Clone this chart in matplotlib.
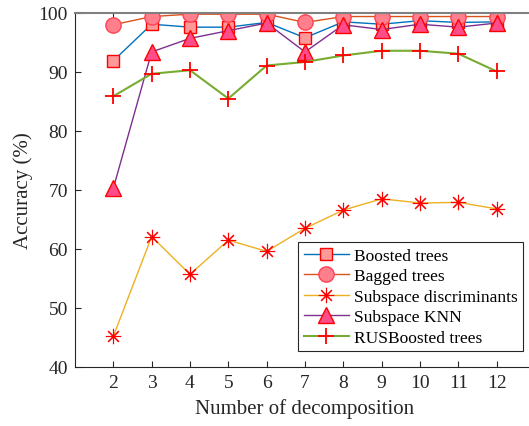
import numpy as np
import matplotlib
matplotlib.use("Agg")
import matplotlib.pyplot as plt

plt.rcParams['font.family'] = ['Liberation Serif', 'DejaVu Serif']

n_decomp = [2, 3, 4, 5, 6, 7, 8, 9, 10, 11, 12]
boosted = [91.9, 98.1, 97.6, 97.6, 98.4, 95.8, 98.5, 98.1, 98.7, 98.4, 98.5]
bagged = [98.0, 99.4, 99.8, 99.8, 99.8, 98.4, 99.4, 99.4, 99.4, 99.4, 99.4]
sub_disc = [45.2, 62.1, 55.7, 61.5, 59.6, 63.5, 66.6, 68.5, 67.8, 67.9, 66.8]
sub_knn = [70.3, 93.4, 95.7, 97.0, 98.3, 93.4, 98.0, 97.2, 98.1, 97.6, 98.3]
rusboost = [85.9, 89.7, 90.3, 85.5, 91.1, 91.7, 92.8, 93.6, 93.6, 93.1, 90.1]

fig = plt.figure(figsize=(5.29, 4.27), dpi=100)
# axes extends past the right edge of the figure (cropped original)
ax = fig.add_axes([75 / 529, 1 - 368 / 427, 460 / 529, 354 / 427])

ax.plot(n_decomp, boosted, '-', color='#0072BD', lw=1, marker='s', ms=8,
        mfc='#FF9999', mec='r', label='Boosted trees')
ax.plot(n_decomp, bagged, '-', color='#D95319', lw=1, marker='o', ms=11,
        mfc='#FF7F8C', mec='#FF4455', label='Bagged trees')
ax.plot(n_decomp, sub_disc, '-', color='#EDB120', lw=1, marker=(8, 2, 0), ms=11,
        mfc='r', mec='r', mew=0.8, label='Subspace discriminants')
ax.plot(n_decomp, sub_knn, '-', color='#7E2F8E', lw=1, marker='^', ms=11,
        mfc='#FF4D8C', mec='r', label='Subspace KNN')
ax.plot(n_decomp, rusboost, '-', color='#77AC30', lw=1.5, marker='+', ms=12,
        mec='r', mew=1.3, label='RUSBoosted trees')

ax.set_xlim(1, 13)
ax.set_ylim(40, 100)
ax.set_xticks(n_decomp)
ax.set_yticks(np.arange(40, 101, 10))
ax.tick_params(direction='in', top=True, right=True, labelsize=14,
               color='#262626', labelcolor='#262626', length=4, pad=5)
for s in ax.spines.values():
    s.set_color('#262626')
    s.set_linewidth(0.8)
ax.spines['top'].set_color('#808080')
ax.spines['top'].set_linewidth(1.5)

ax.set_xlabel('Number of decomposition', fontsize=15, color='#262626', labelpad=5)
ax.set_ylabel('Accuracy (%)', fontsize=15, color='#262626', labelpad=4)

leg = ax.legend(loc='lower right', bbox_to_anchor=(523 / 529, 1 - 352 / 427),
                bbox_transform=fig.transFigure, fontsize=12.5,
                fancybox=False, framealpha=1, edgecolor='#262626',
                borderpad=0.3, labelspacing=0.25, handlelength=2.6,
                handletextpad=0.3, borderaxespad=0)
leg.get_frame().set_linewidth(0.8)

fig.savefig('out.png', dpi=100)
